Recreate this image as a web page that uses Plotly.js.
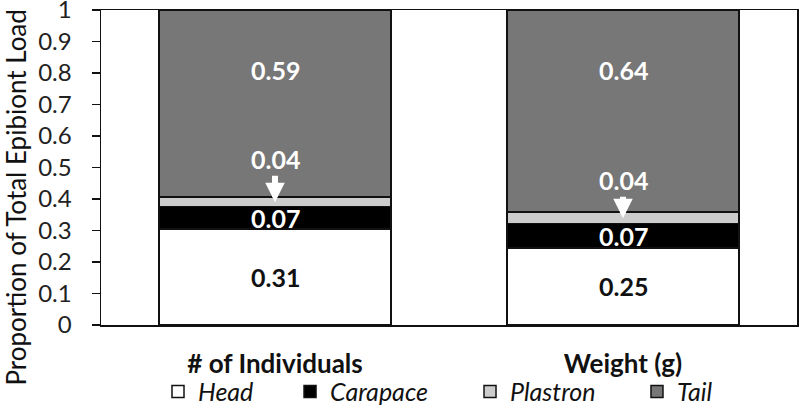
<!DOCTYPE html>
<html>
<head>
<meta charset="utf-8">
<script src="https://cdn.plot.ly/plotly-3.0.1.min.js"></script>
<style>
  html, body { margin: 0; padding: 0; background: #fff; }
  #chart { width: 800px; height: 409px; }
</style>
</head>
<body>
<div id="chart"></div>
<script>
// proportions (bottom to top)
var categories = ['# of Individuals', 'Weight (g)'];
var head = [0.304, 0.245];
var carapace = [0.072, 0.078];
var plastron = [0.031, 0.035];
var tail = [0.593, 0.642];

// printed value labels
var headLabels = ['0.31', '0.25'];
var carapaceLabels = ['0.07', '0.07'];
var plastronLabels = ['0.04', '0.04'];
var tailLabels = ['0.59', '0.64'];

var yTicks = [0, 0.1, 0.2, 0.3, 0.4, 0.5, 0.6, 0.7, 0.8, 0.9, 1];
var yTickText = ['0', '0.1', '0.2', '0.3', '0.4', '0.5', '0.6', '0.7', '0.8', '0.9', '1'];
var yTitle = 'Proportion of Total Epibiont Load';

var fontFam = 'Lato, "Open Sans", sans-serif';
var outline = {color: '#111', width: 1.5};

function seg(name, vals, color, legendId) {
    return {
        type: 'bar',
        name: name,
        x: categories,
        y: vals,
        marker: {color: color, line: outline},
        legend: legendId,
        hoverinfo: 'skip'
    };
}

var data = [
    seg('Head', head, '#ffffff', 'legend'),
    seg('Carapace', carapace, '#000000', 'legend2'),
    seg('Plastron', plastron, '#cccccc', 'legend3'),
    seg('Tail', tail, '#777777', 'legend4')
];

var annotations = [];
var plastronOffsets = [-43, -38];
for (let i = 0; i < categories.length; i++) {
    var c1 = head[i] + carapace[i];
    annotations.push({
        x: categories[i], y: head[i] / 2, text: headLabels[i], showarrow: false,
        font: {family: fontFam, size: 25, color: '#111', weight: 'bold'}
    });
    annotations.push({
        x: categories[i], y: head[i] + carapace[i] / 2, text: carapaceLabels[i], showarrow: false,
        font: {family: fontFam, size: 25, color: '#fff', weight: 'bold'}
    });
    annotations.push({
        x: categories[i], y: c1 + plastron[i] * 0.45, text: plastronLabels[i],
        showarrow: true, ax: 0, ay: plastronOffsets[i],
        arrowcolor: '#fff', arrowwidth: 6, arrowhead: 2, arrowsize: 0.65, standoff: 0,
        font: {family: fontFam, size: 25, color: '#fff', weight: 'bold'}
    });
    annotations.push({
        x: categories[i], y: 0.81, text: tailLabels[i], showarrow: false,
        font: {family: fontFam, size: 25, color: '#fff', weight: 'bold'}
    });
}

// y title: longer than the plot, so it sits lower than the axis middle
annotations.push({
    xref: 'paper', yref: 'paper', x: -0.122, y: 0.405,
    xanchor: 'center', yanchor: 'middle',
    text: yTitle, textangle: -90, showarrow: false,
    font: {family: fontFam, size: 26, color: '#111'}
});

function legendAt(xpos) {
    return {
        orientation: 'h', x: xpos, y: -0.212, xanchor: 'left', yanchor: 'middle',
        bgcolor: 'rgba(0,0,0,0)', borderwidth: 0,
        font: {family: fontFam, size: 25, color: '#111', style: 'italic'}
    };
}

var layout = {
    width: 800,
    height: 409,
    margin: {l: 101, r: 3, t: 10, b: 84, autoexpand: false},
    paper_bgcolor: '#fff',
    plot_bgcolor: '#fff',
    barmode: 'stack',
    bargap: 0.333,
    showlegend: true,
    legend: legendAt(0.0819),
    legend2: legendAt(0.2716),
    legend3: legendAt(0.5302),
    legend4: legendAt(0.7701),
    xaxis: {
        showline: true, mirror: true, linecolor: '#111', linewidth: 1.5,
        showgrid: false, ticks: '', ticklabelstandoff: 15,
        tickfont: {family: fontFam, size: 26, color: '#111', weight: 'bold'}
    },
    yaxis: {
        range: [0, 1], tickvals: yTicks, ticktext: yTickText,
        showline: true, mirror: true, linecolor: '#111', linewidth: 1.5,
        showgrid: false, zeroline: false,
        ticks: 'outside', ticklen: 8, tickwidth: 1.5, tickcolor: '#111',
        ticklabelstandoff: 15, ticklabeloverflow: 'allow',
        tickfont: {family: fontFam, size: 24, color: '#222'}
    },
    annotations: annotations
};

var config = {staticPlot: true, responsive: false};

Plotly.newPlot('chart', data, layout, config);
</script>
</body>
</html>
